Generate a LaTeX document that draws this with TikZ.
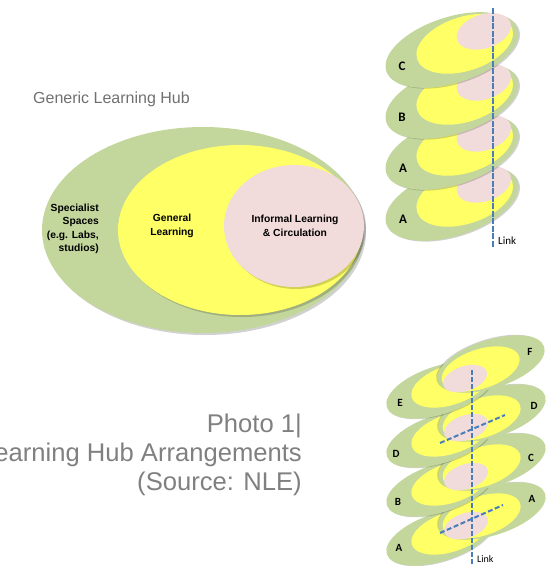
\documentclass[tikz,border=0pt]{standalone}
\usepackage{fontspec}
\setmainfont{Liberation Sans}
\newfontfamily\floorfont{Carlito}
\usepackage{tikz}

\definecolor{hubgreen}{HTML}{C3D69B}
\definecolor{hubyellow}{HTML}{FFFF66}
\definecolor{hubpink}{HTML}{F2DCDB}
\definecolor{linkblue}{HTML}{4A7EBB}
\definecolor{titlegray}{HTML}{707070}
\definecolor{captiongray}{HTML}{808080}

\tikzset{
  discshadow/.style={fill=black,opacity=.18},
  % one floor plate: green hub, yellow general area, pink circulation
  hubdisc/.pic={
    \fill[discshadow] (1.2,1.2) ellipse [x radius=69pt, y radius=33pt];
    \fill[hubgreen] (0,0) ellipse [x radius=69pt, y radius=33pt];
    \fill[hubyellow] (14,-2) ellipse [x radius=50pt, y radius=27pt];
    \fill[hubpink] (36,-8) ellipse [x radius=28pt, y radius=17pt];
  },
  hubtext/.style={font=\bfseries\fontsize{10.3}{13.5}\selectfont,align=center,inner sep=0},
  floorlabel/.style={font=\floorfont\bfseries\fontsize{13}{13}\selectfont,inner sep=0},
  smallfloorlabel/.style={font=\floorfont\bfseries\fontsize{11}{11}\selectfont,inner sep=0},
  linklabel/.style={font=\floorfont\fontsize{11}{11}\selectfont,inner sep=0,anchor=west},
  link/.style={draw=linkblue,line width=2.2pt,dash pattern=on 6pt off 1.5pt},
}

\begin{document}
\begin{tikzpicture}[x=1pt,y=-1pt]
  \useasboundingbox (0,0) rectangle (558,566);
  \clip (0,0) rectangle (558,566);

  % generic hub
  \node[font=\fontsize{16}{19}\selectfont,text=titlegray,inner sep=0,anchor=west] (hubtitle) at (33,99) {Generic Learning Hub};
  \fill[discshadow] (205,232) ellipse [x radius=161pt, y radius=103pt];
  \fill[hubgreen] (203,230) ellipse [x radius=161pt, y radius=103pt];
  \fill[discshadow] (242,232) ellipse [x radius=122pt, y radius=85pt];
  \fill[hubyellow] (240,230) ellipse [x radius=122pt, y radius=85pt];
  \fill[discshadow] (296,228) ellipse [x radius=70pt, y radius=61pt];
  \fill[hubpink] (294,226) ellipse [x radius=70pt, y radius=61pt];
  \node[hubtext,align=right,anchor=east] (specialist) at (99,229) {Specialist\\Spaces\\(e.g. Labs,\\studios)};
  \node[hubtext] (general) at (172,226) {General\\Learning};
  \node[hubtext] (informal) at (295,226) {Informal Learning\\\& Circulation};

  % caption
  \node[font=\fontsize{25.6}{29}\selectfont,text=captiongray,align=right,inner sep=0,anchor=north east] (photocap) at (302,414) {Photo 1|\\Learning Hub Arrangements\\(Source: NLE)};

  % stacked floors
  \pic[rotate=17.8] at (452,203) {hubdisc};
  \pic[rotate=17.8] at (452,152) {hubdisc};
  \pic[rotate=17.8] at (452,101) {hubdisc};
  \pic[rotate=17.8] at (452,50) {hubdisc};
  \node[floorlabel] (stackA1) at (403,219) {A};
  \node[floorlabel] (stackA2) at (403,168) {A};
  \node[floorlabel] (stackB) at (402,117) {B};
  \node[floorlabel] (stackC) at (402,66) {C};
  \coordinate (stacktop) at (493,8);
  \coordinate (stackbot) at (493,248);
  \draw[link] (stacktop) -- (stackbot);
  \node[linklabel] (stacklink) at (498,241) {Link};

  % split level floors
  \pic[rotate=18,xscale=.81,yscale=.73] at (440,537) {hubdisc};
  \pic[rotate=198,xscale=.81,yscale=.73] at (492,511) {hubdisc};
  \pic[rotate=18,xscale=.81,yscale=.73] at (440,488) {hubdisc};
  \pic[rotate=198,xscale=.81,yscale=.73] at (492,462) {hubdisc};
  \pic[rotate=18,xscale=.81,yscale=.73] at (440,439) {hubdisc};
  \pic[rotate=198,xscale=.81,yscale=.73] at (492,413) {hubdisc};
  \pic[rotate=18,xscale=.81,yscale=.73] at (440,390) {hubdisc};
  \pic[rotate=198,xscale=.81,yscale=.73] at (491,364) {hubdisc};
  \node[smallfloorlabel] (splitA1) at (399,548) {A};
  \node[smallfloorlabel] (splitB) at (398,502) {B};
  \node[smallfloorlabel] (splitD1) at (396,454) {D};
  \node[smallfloorlabel] (splitE) at (400,403) {E};
  \node[smallfloorlabel] (splitA2) at (532,499) {A};
  \node[smallfloorlabel] (splitC) at (531,458) {C};
  \node[smallfloorlabel] (splitD2) at (534,406) {D};
  \node[smallfloorlabel] (splitF) at (530,352) {F};
  \coordinate (splittop) at (472,370);
  \coordinate (splitbot) at (472,566);
  \coordinate (rampAlow) at (440,533);
  \coordinate (rampAhigh) at (503,505);
  \coordinate (rampDlow) at (440,443);
  \coordinate (rampDhigh) at (505,415);
  \draw[link,line width=2pt,dash pattern=on 5pt off 2pt] (splittop) -- (splitbot);
  \draw[link,line width=2pt,dash pattern=on 5pt off 2.5pt] (rampAlow) -- (rampAhigh);
  \draw[link,line width=2pt,dash pattern=on 5pt off 2.5pt] (rampDlow) -- (rampDhigh);
  \node[linklabel,font=\floorfont\fontsize{10}{10}\selectfont] (splitlink) at (477,559) {Link};
\end{tikzpicture}
\end{document}
